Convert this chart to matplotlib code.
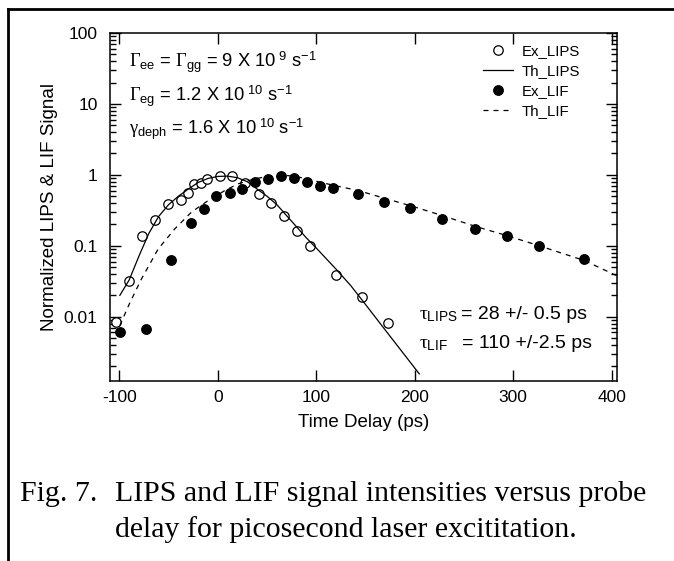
import numpy as np
import matplotlib.pyplot as plt
import matplotlib.ticker as mtick
from matplotlib.lines import Line2D

plt.rcParams['font.family'] = 'Liberation Sans'
plt.rcParams['axes.unicode_minus'] = False
plt.rcParams['mathtext.fontset'] = 'custom'
plt.rcParams['mathtext.rm'] = 'Liberation Serif'
plt.rcParams['mathtext.it'] = 'Liberation Serif'
plt.rcParams['mathtext.sf'] = 'Liberation Sans'

# experimental LIPS (open circles)
lips_x = [-103, -90.4, -76.5, -63.4, -50.6, -37.6, -30.7, -24.2, -17.5, -11.2, 2.2, 14.8,
          28, 41.6, 54.5, 67.3, 80.8, 93.7, 120, 146, 172.6]
lips_y = [0.0083, 0.032, 0.136, 0.234, 0.388, 0.449, 0.55, 0.754, 0.78, 0.86, 0.95, 0.955,
          0.77, 0.537, 0.399, 0.261, 0.161, 0.10, 0.039, 0.019, 0.0081]

# experimental LIF (filled circles)
lif_x = [-99.5, -73.2, -47.2, -27.3, -14.4, -1.4, 12, 25, 37.8, 51, 64.3, 77.5, 90.7,
         103.6, 116.8, 142.8, 168.8, 195.2, 228, 261, 294, 326.6, 372.1]
lif_y = [0.0060, 0.0067, 0.063, 0.21, 0.326, 0.497, 0.55, 0.63, 0.795, 0.86, 0.95, 0.89,
         0.80, 0.70, 0.65, 0.54, 0.41, 0.343, 0.24, 0.17, 0.136, 0.10, 0.066]

# theory curves
th_lips_x = [-99.5, -90, -80, -70, -60, -50, -40, -30, -20, -10, 0, 10, 20, 30, 40, 50,
             60, 70, 80, 90, 100, 120, 135, 150, 175, 204.7]
th_lips_y = [0.020, 0.033, 0.072, 0.15, 0.26, 0.38, 0.50, 0.63, 0.78, 0.89, 0.95, 0.96,
             0.91, 0.80, 0.63, 0.50, 0.38, 0.265, 0.185, 0.129, 0.093, 0.047, 0.0275,
             0.0149, 0.0053, 0.00156]

th_lif_x = [-99.5, -90, -77.6, -60.6, -43.7, -26.8, -9.8, 7.1, 20.6, 37.6, 51.1, 64,
            77.5, 90, 103.6, 120, 142.8, 168.8, 195.2, 228, 261, 293.7, 326.5, 372.2, 405]
th_lif_y = [0.0075, 0.015, 0.034, 0.090, 0.173, 0.298, 0.434, 0.60, 0.746, 0.88, 0.95,
            0.99, 0.96, 0.88, 0.79, 0.70, 0.60, 0.47, 0.369, 0.267, 0.189, 0.139, 0.10,
            0.062, 0.038]

W, H = 674, 561
fig = plt.figure(figsize=(W / 100, H / 100), dpi=100)
ax = fig.add_axes([110 / W, 1 - 381 / H, 507 / W, 348 / H])

ax.plot(lips_x, lips_y, 'o', mfc='white', mec='k', mew=0.9, ms=6.8, label='Ex_LIPS')
ax.plot(th_lips_x, th_lips_y, '-', color='k', lw=0.9, label='Th_LIPS')
ax.plot(lif_x, lif_y, 'o', mfc='k', mec='k', ms=6.8, label='Ex_LIF')
ax.plot(th_lif_x, th_lif_y, color='k', lw=0.9, ls=(0, (4, 4)), label='Th_LIF')

ax.set_yscale('log')
ax.set_xlim(-109.5, 405.5)
ax.set_ylim(0.00124, 100)
ax.set_xticks([-100, 0, 100, 200, 300, 400])
ax.set_yticks([0.01, 0.1, 1, 10, 100])
ax.yaxis.set_major_formatter(mtick.FuncFormatter(lambda v, p: '%g' % v))

for s in ax.spines.values():
    s.set_linewidth(1.1)
ax.tick_params(which='both', direction='in', top=True, right=True, width=1, labelsize=12.5)
ax.tick_params(which='major', length=8)
ax.tick_params(which='minor', length=4)
ax.tick_params(axis='x', pad=6.5)
ax.tick_params(axis='y', pad=9)

ax.set_xlabel('Time Delay (ps)', fontsize=13.5, va='center')
ax.xaxis.set_label_coords(0.5, -0.12)
ax.set_ylabel('Normalized LIPS & LIF Signal', fontsize=13.5, va='center')
ax.yaxis.set_label_coords(-0.12, 0.5)

ax.legend(loc='upper left', bbox_to_anchor=(483.3 / W, 1 - 44 / H),
          bbox_transform=fig.transFigure, frameon=False, fontsize=10.8,
          handlelength=2.0, handletextpad=0.56, labelspacing=0.4,
          borderpad=0, borderaxespad=0, numpoints=1)

def px(x, y):
    return x / W, 1 - y / H

fs = 13.2
fig.text(*px(129, 67), r'$\Gamma_{\mathsf{ee}}$ = $\Gamma_{\mathsf{gg}}$ = 9 X 10$^{\mathsf{\ 9}}$ s$^{\mathsf{-1}}$',
         fontsize=fs, va='baseline')
fig.text(*px(129, 101), r'$\Gamma_{\mathsf{eg}}$ = 1.2 X 10$^{\mathsf{\ 10}}$ s$^{\mathsf{-1}}$',
         fontsize=fs, va='baseline')
fig.text(*px(129, 134), r'$\gamma_{\mathsf{deph}}$ = 1.6 X 10$^{\mathsf{\ 10}}$ s$^{\mathsf{-1}}$',
         fontsize=fs, va='baseline')

fs2 = 14
fig.text(*px(419, 319), r'$\tau_{\mathsf{LIPS}}$', fontsize=fs2, va='baseline')
fig.text(*px(461, 319), '= 28 +/- 0.5 ps', fontsize=fs2, va='baseline')
fig.text(*px(419, 348), r'$\tau_{\mathsf{LIF}}$', fontsize=fs2, va='baseline')
fig.text(*px(462, 348), '= 110 +/-2.5 ps', fontsize=fs2, va='baseline')

# caption
cap = dict(family='Liberation Serif', fontsize=21.5, va='center')
fig.text(*px(20, 494), 'Fig. 7.', **cap)
fig.text(*px(115, 494), 'LIPS and LIF signal intensities versus probe', **cap)
fig.text(*px(115, 530), 'delay for picosecond laser excititation.', **cap)

# page border (top and left)
fig.add_artist(Line2D([8 / W, 1], [1 - 9 / H, 1 - 9 / H], transform=fig.transFigure,
                      color='k', lw=2))
fig.add_artist(Line2D([8 / W, 8 / W], [0, 1 - 9 / H], transform=fig.transFigure,
                      color='k', lw=2))

fig.savefig('out.png', dpi=100)
